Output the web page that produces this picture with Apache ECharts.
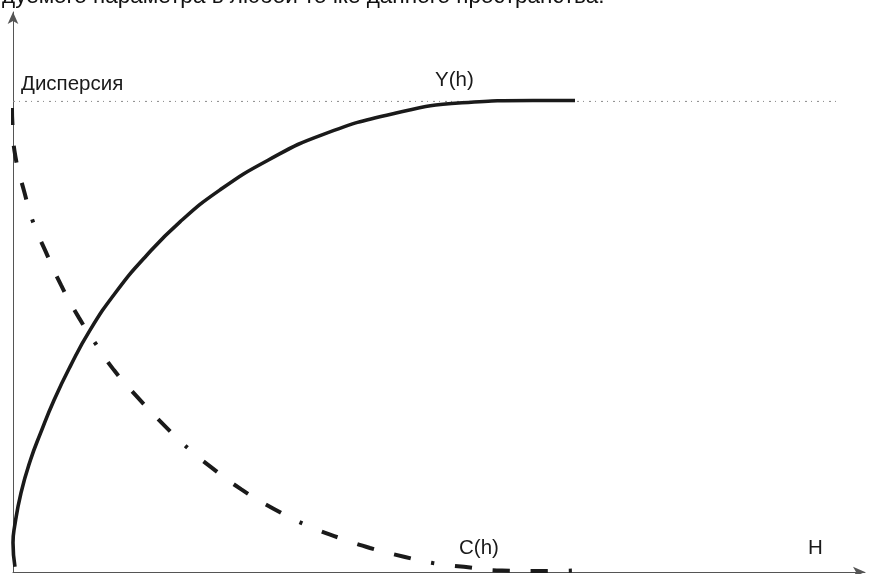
<!DOCTYPE html>
<html>
<head>
<meta charset="utf-8">
<script src="https://cdn.jsdelivr.net/npm/echarts@6/dist/echarts.min.js"></script>
<style>
html,body{margin:0;padding:0;background:#fff;}
#c{width:869px;height:574px;}
</style>
</head>
<body>
<div id="c"></div>
<script>
// Distance h (0..100) and semivariance / covariance in units of the sill (dispersion = 1)
const gammaH = [0.23,0.00,0.18,0.94,2.05,3.23,4.81,6.69,9.04,12.09,15.49,19.60,24.30,29.93,36.27,44.84,52.70,61.03,65.96];
const gammaV = [0.011,0.062,0.096,0.168,0.238,0.295,0.365,0.436,0.514,0.595,0.669,0.744,0.812,0.875,0.929,0.975,0.997,1.002,1.002];

const covH = [-0.12,-0.06,0.29,1.29,2.35,3.76,5.63,7.75,9.74,11.85,14.79,17.84,20.54,23.24,26.76,30.63,34.62,38.38,41.90,46.01,49.30,52.93,57.39,61.85,65.61];
const covV = [0.986,0.950,0.882,0.810,0.744,0.684,0.610,0.540,0.484,0.429,0.368,0.310,0.263,0.223,0.176,0.134,0.098,0.072,0.051,0.032,0.019,0.011,0.003,0.002,0.003];

const sillLevel = 1;
const sillExtent = [0, 97];

const xMax = 100;
const yMax = 1.19;

const captionText = 'дуемого параметра в любой точке данного пространства.';
const labelSill = 'Дисперсия';
const labelGamma = 'Y(h)';
const labelCov = 'C(h)';
const labelAxis = 'H';

const zip = (a, b) => a.map((v, i) => [v, b[i]]);

const chart = echarts.init(document.getElementById('c'), null, {renderer: 'canvas'});
const font = '20.5px "Liberation Sans", Arial, sans-serif';
const txtColor = '#1a1a1a';

chart.setOption({
  animation: false,
  backgroundColor: '#fff',
  grid: {left: 13, right: 4, top: 12, bottom: 2, containLabel: false},
  xAxis: {
    type: 'value', min: 0, max: xMax,
    axisLine: {show: true, lineStyle: {color: '#555', width: 1}, symbol: ['none', 'arrow'], symbolSize: [8, 12]},
    axisTick: {show: false}, axisLabel: {show: false}, splitLine: {show: false}
  },
  yAxis: {
    type: 'value', min: 0, max: yMax,
    axisLine: {show: true, lineStyle: {color: '#555', width: 1}, symbol: ['none', 'arrow'], symbolSize: [8, 12]},
    axisTick: {show: false}, axisLabel: {show: false}, splitLine: {show: false}
  },
  series: [
    {
      type: 'line', data: sillExtent.map(x => [x, sillLevel]), showSymbol: false, clip: false,
      lineStyle: {color: '#8a8a8a', width: 1, type: [2, 4, 1, 5]}, z: 1
    },
    {
      type: 'line', data: zip(gammaH, gammaV), showSymbol: false, smooth: 0.5, clip: false,
      lineStyle: {color: '#1a1a1a', width: 3.6, cap: 'butt'}, z: 3
    },
    {
      type: 'line', data: zip(covH, covV), showSymbol: false, smooth: 0.5, clip: false,
      lineStyle: {color: '#1a1a1a', width: 4, cap: 'butt', type: [17, 21, 17, 21, 17, 21, 3, 21]}, z: 2
    }
  ],
  graphic: [
    {type: 'text', left: 2, top: -15, style: {text: captionText, font: '22.5px "Liberation Sans", Arial, sans-serif', fill: '#111'}},
    {type: 'text', x: 21, y: 84, style: {text: labelSill, font: font, fill: txtColor, verticalAlign: 'middle'}},
    {type: 'text', x: 435, y: 80.5, style: {text: labelGamma, font: font, fill: txtColor, verticalAlign: 'middle'}},
    {type: 'text', x: 459, y: 548.5, style: {text: labelCov, font: font, fill: txtColor, verticalAlign: 'middle'}},
    {type: 'text', x: 808, y: 548.5, style: {text: labelAxis, font: font, fill: txtColor, verticalAlign: 'middle'}}
  ]
});
</script>
</body>
</html>
